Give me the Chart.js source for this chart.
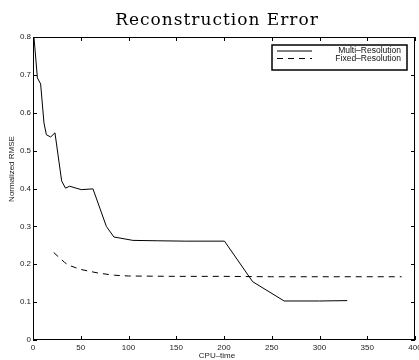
<!DOCTYPE html>
<html>
<head>
<meta charset="utf-8">
<script src="https://cdn.jsdelivr.net/npm/chart.js@4.4.0/dist/chart.umd.min.js"></script>
<style>
  html, body { margin: 0; padding: 0; background: #fff; }
  #wrap { width: 419px; height: 360px; position: relative; }
</style>
</head>
<body>
<div id="wrap"><canvas id="errChart"></canvas></div>
<script>
// Values
const multiX = [1, 4.6, 8, 11.5, 14, 18.5, 23, 30, 34, 38.4, 45, 50.6, 62.8, 76.8, 84.7, 104.6, 130, 160, 200.5, 230, 263, 300, 329];
const multiY = [0.8, 0.692, 0.676, 0.573, 0.542, 0.536, 0.547, 0.42, 0.401, 0.406, 0.401, 0.397, 0.399, 0.30, 0.272, 0.263, 0.262, 0.261, 0.261, 0.154, 0.103, 0.103, 0.104];
const fixedX = [21.7, 33, 37, 48.8, 60, 69.8, 85.5, 100, 150, 200, 250, 300, 386];
const fixedY = [0.231, 0.205, 0.198, 0.187, 0.181, 0.176, 0.171, 0.169, 0.168, 0.168, 0.167, 0.167, 0.167];
const xTicks = [0, 50, 100, 150, 200, 250, 300, 350, 400];
const yTicks = [0, 0.1, 0.2, 0.3, 0.4, 0.5, 0.6, 0.7, 0.8];
const seriesNames = ['Multi\u2013Resolution', 'Fixed\u2013Resolution'];

const toPoints = (xs, ys) => xs.map((x, i) => ({ x: x, y: ys[i] }));

// Frame, inward ticks, title, axis titles and legend, MATLAB style
const framePlugin = {
    id: 'frame',
    afterDraw(chart) {
        const ctx = chart.ctx;
        const a = chart.chartArea;
        const xs = chart.scales.x, ys = chart.scales.y;
        ctx.save();
        ctx.strokeStyle = '#000';
        ctx.lineWidth = 1;
        ctx.strokeRect(a.left + 0.5, a.top + 0.5, a.right - a.left - 1, a.bottom - a.top - 1);
        ctx.beginPath();
        xTicks.forEach(v => {
            const px = Math.round(xs.getPixelForValue(v)) + 0.5;
            ctx.moveTo(px, a.bottom); ctx.lineTo(px, a.bottom - 4);
            ctx.moveTo(px, a.top); ctx.lineTo(px, a.top + 4);
        });
        yTicks.forEach(v => {
            const py = Math.round(ys.getPixelForValue(v)) + 0.5;
            ctx.moveTo(a.left, py); ctx.lineTo(a.left + 4, py);
            ctx.moveTo(a.right, py); ctx.lineTo(a.right - 4, py);
        });
        ctx.stroke();

        // title
        ctx.fillStyle = '#000';
        ctx.font = '17px "DejaVu Serif", "Liberation Serif", serif';
        ctx.letterSpacing = '1px';
        ctx.textAlign = 'center';
        ctx.textBaseline = 'alphabetic';
        ctx.fillText('Reconstruction Error', 217, 25);
        ctx.letterSpacing = '0px';

        // axis titles
        ctx.font = '8px "Liberation Sans", Arial, sans-serif';
        ctx.fillStyle = '#222';
        ctx.textBaseline = 'top';
        ctx.fillText('CPU\u2013time', 217, 352);
        ctx.save();
        ctx.translate(12, 169);
        ctx.rotate(-Math.PI / 2);
        ctx.textBaseline = 'middle';
        ctx.fillText('Normalized RMSE', 0, 0);
        ctx.restore();

        // legend box
        ctx.fillStyle = '#fff';
        ctx.fillRect(272, 45, 135, 25);
        ctx.strokeStyle = '#000';
        ctx.lineWidth = 1.5;
        ctx.strokeRect(272, 45, 135, 25);
        ctx.lineWidth = 1;
        chart.data.datasets.forEach((ds, i) => {
            const ly = 51 + i * 7.5;
            ctx.setLineDash(ds.borderDash || []);
            ctx.beginPath();
            ctx.moveTo(277, ly); ctx.lineTo(312, ly);
            ctx.stroke();
            ctx.setLineDash([]);
            ctx.fillStyle = '#111';
            ctx.font = '8.5px "Liberation Sans", Arial, sans-serif';
            ctx.textAlign = 'right';
            ctx.textBaseline = 'middle';
            ctx.fillText(ds.label, 401, ly);
        });
        ctx.restore();
    }
};

new Chart(document.getElementById('errChart'), {
    type: 'scatter',
    data: {
        datasets: [
            {
                label: seriesNames[0],
                data: toPoints(multiX, multiY),
                showLine: true,
                borderColor: '#000',
                borderWidth: 1,
                pointRadius: 0,
                tension: 0
            },
            {
                label: seriesNames[1],
                data: toPoints(fixedX, fixedY),
                showLine: true,
                borderColor: '#000',
                borderWidth: 1,
                borderDash: [6, 5],
                pointRadius: 0,
                tension: 0
            }
        ]
    },
    options: {
        responsive: true,
        maintainAspectRatio: false,
        animation: false,
        layout: { padding: { top: 37, right: 4, left: 0, bottom: 0 } },
        plugins: {
            legend: { display: false },
            title: { display: false },
            tooltip: { enabled: false }
        },
        scales: {
            x: {
                type: 'linear',
                min: 0,
                max: 400,
                afterFit: s => { s.height = 20; s.paddingLeft = 0; s.paddingRight = 0; },
                afterBuildTicks: s => { s.ticks = xTicks.map(v => ({ value: v })); },
                grid: { display: false, drawTicks: false },
                border: { display: false },
                ticks: {
                    padding: 3,
                    maxRotation: 0,
                    autoSkip: false,
                    color: '#222',
                    font: { family: 'Liberation Sans', size: 8 }
                }
            },
            y: {
                min: 0,
                max: 0.8,
                afterFit: s => { s.width = 33; s.paddingTop = 0; s.paddingBottom = 0; },
                afterBuildTicks: s => { s.ticks = yTicks.map(v => ({ value: v })); },
                grid: { display: false, drawTicks: false },
                border: { display: false },
                ticks: {
                    padding: 2,
                    autoSkip: false,
                    color: '#222',
                    font: { family: 'Liberation Sans', size: 8 },
                    callback: v => String(Math.round(v * 10) / 10)
                }
            }
        }
    },
    plugins: [framePlugin]
});
</script>
</body>
</html>
